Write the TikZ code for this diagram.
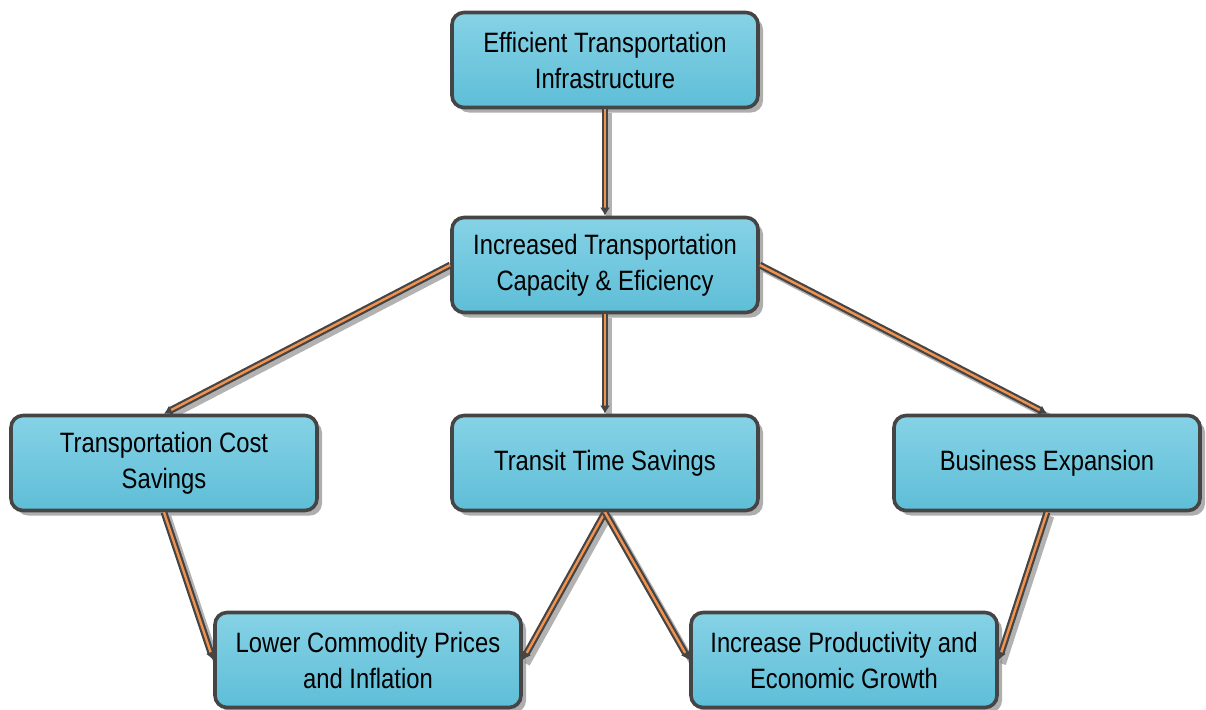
\documentclass[tikz,border=0pt]{standalone}
\usepackage{fontspec}
\setmainfont[FakeStretch=0.85]{Liberation Sans}
\usetikzlibrary{arrows.meta,shadows,backgrounds}

\definecolor{boxtop}{HTML}{86D2E6}
\definecolor{boxbot}{HTML}{5EBED7}
\definecolor{edgegray}{HTML}{454545}
\definecolor{linkorange}{HTML}{F2924F}

\tikzset{
  stepbox/.style={draw=edgegray, line width=1.8pt, rounded corners=6pt,
    top color=boxtop, bottom color=boxbot,
    minimum width=153pt, minimum height=47.5pt, align=center,
    font=\fontsize{14}{18}\selectfont,
    drop shadow={shadow xshift=2.5pt, shadow yshift=-2.5pt, fill=black!45, opacity=0.7}},
  link/.style={draw=edgegray, line width=1.1pt, double=linkorange, double distance=1.2pt,
    -{Latex[length=4pt,width=5pt]}},
  linkshadow/.style={draw=black!30, line width=3.2pt}
}

\begin{document}
\begin{tikzpicture}[x=0.5pt,y=-0.5pt]
  \useasboundingbox (0,0) rectangle (1206,709);

  % Boxes
  \node[stepbox] (infra) at (605,60) {Efficient Transportation\\Infrastructure};
  \node[stepbox] (capacity) at (605,265) {Increased Transportation\\Capacity \& Eficiency};
  \node[stepbox] (cost) at (164,463) {Transportation Cost\\Savings};
  \node[stepbox] (transit) at (605,463) {Transit Time Savings};
  \node[stepbox] (business) at (1047,463) {Business Expansion};
  \node[stepbox] (prices) at (368,660) {Lower Commodity Prices\\and Inflation};
  \node[stepbox] (growth) at (844,660) {Increase Productivity and\\Economic Growth};

  % Connectors (shadow behind, double line on top)
  \foreach \a/\b in {infra.south/capacity.north, capacity.west/cost.north,
      capacity.south/transit.north, capacity.east/business.north,
      cost.south/prices.west, transit.south/prices.east,
      transit.south/growth.west, business.south/growth.east} {
    \begin{scope}[on background layer]
      \draw[linkshadow] ([shift={(2pt,-2pt)}]\a) -- ([shift={(2pt,-2pt)}]\b); % Shadow
    \end{scope}
    \draw[link] (\a) -- (\b); % Arrow
  }
\end{tikzpicture}
\end{document}
